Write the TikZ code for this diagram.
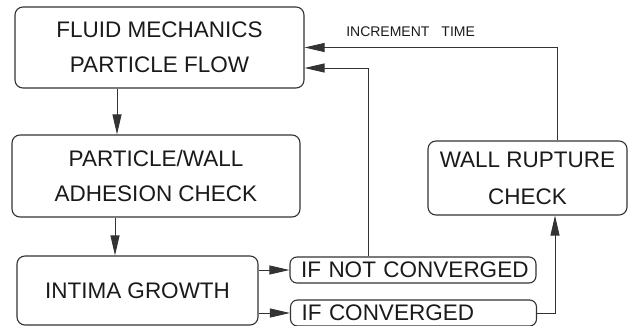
\documentclass[tikz,border=0pt]{standalone}
\usepackage{fontspec}
\setmainfont{Liberation Sans}
\usetikzlibrary{arrows.meta,positioning,calc}
\definecolor{trait}{HTML}{333333}
\definecolor{texte}{HTML}{1A1A1A}

\begin{document}
\begin{tikzpicture}[x=1pt,y=-1pt,
  boite/.style={draw=trait,text=texte,rounded corners=8pt,line width=1.1pt,align=center,font=\fontsize{22.5}{35}\selectfont,inner sep=0pt},
  etat/.style={draw=trait,text=texte,rounded corners=7pt,line width=1.1pt,align=left,text width=224pt,inner xsep=11pt,inner ysep=0pt,minimum height=26pt,font=\fontsize{22.5}{24}\selectfont},
  fleche/.style={draw=trait,line width=0.9pt,-{Triangle[length=20pt,width=9pt]}}]
  \useasboundingbox (0,0) rectangle (628,326);
  % blocs de calcul
  \node[boite,minimum width=289pt,minimum height=81pt] (fluide) at (159.5,47.5) {FLUID MECHANICS\\PARTICLE FLOW};
  \node[boite,minimum width=288pt,minimum height=82pt] (adhesion) at (156,176) {PARTICLE/WALL\\ADHESION CHECK};
  \node[boite,minimum width=241pt,minimum height=69pt] (intima) at (137.5,290.5) {INTIMA GROWTH};
  \node[boite,minimum width=199pt,minimum height=74pt,font=\fontsize{22.5}{37}\selectfont] (rupture) at (527.5,178) {WALL RUPTURE\\CHECK};
  % tests de convergence
  \node[etat] (nonconv) at (413,270) {\mbox{IF NOT CONVERGED}};
  \node[etat] (conv) at (413.5,313) {\mbox{IF CONVERGED}};
  % liaisons
  \draw[fleche] ([xshift=-42.5pt]fluide.south) -- ([xshift=-42.5pt]fluide.south |- adhesion.north);
  \draw[fleche] ([xshift=-41pt]adhesion.south) -- ([xshift=-41pt]adhesion.south |- intima.north);
  \draw[fleche] (intima.east |- nonconv.west) -- (nonconv.west);
  \draw[fleche] (intima.east |- conv.west) -- (conv.west);
  \draw[fleche] (conv.east) -| ([xshift=27.5pt]rupture.south);
  \draw[fleche] ([xshift=29.5pt]rupture.north) |- node[pos=0.79,above=10pt,inner sep=0pt,text=texte,font=\fontsize{14}{16}\selectfont] (increment) {INCREMENT\hspace{12pt}TIME} (fluide.east);
  \draw[fleche] ([xshift=-45pt]nonconv.north) |- ([yshift=-20.5pt]fluide.east);
\end{tikzpicture}
\end{document}
